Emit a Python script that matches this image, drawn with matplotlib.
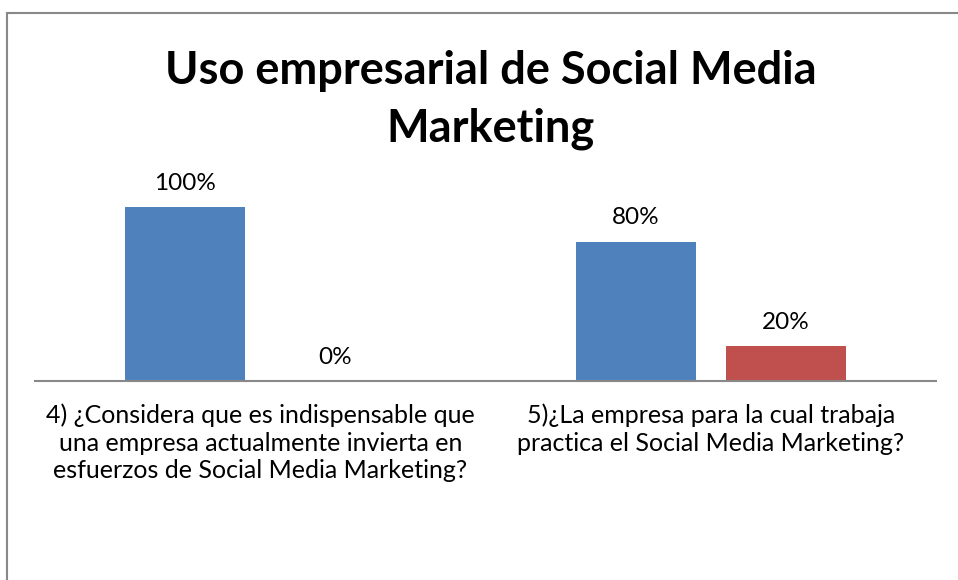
import matplotlib
matplotlib.use("Agg")
import matplotlib.pyplot as plt
from matplotlib.patches import Rectangle

categories = ["4) ¿Considera que es indispensable que\nuna empresa actualmente invierta en\nesfuerzos de Social Media Marketing?",
              "5)¿La empresa para la cual trabaja\npractica el Social Media Marketing?"]
series_si = [1.00, 0.80]
series_no = [0.00, 0.20]
labels_si = ["100%", "80%"]
labels_no = ["0%", "20%"]
title = "Uso empresarial de Social Media\nMarketing"

W, H = 958, 580
fig = plt.figure(figsize=(W/100, H/100), dpi=100)
fig.patch.set_facecolor("white")

ax_left, ax_right = 35/W, 936/W
ax_bottom, ax_top = 1-381/H, 1-150/H
ax = fig.add_axes([ax_left, ax_bottom, ax_right-ax_left, ax_top-ax_bottom])

ymax = (381-150)/174
ax.set_xlim(0, 2)
ax.set_ylim(0, ymax)
centers = [0.5, 1.5]
bw = 120/450.5
off = 75/450.5
blue = "#4F81BD"
red = "#C0504D"
font = ["Lato", "DejaVu Sans"]
for i, c in enumerate(centers):
    ax.bar(c-off, series_si[i], width=bw, color=blue)
    ax.bar(c+off, series_no[i], width=bw, color=red)
    ax.text(c-off, series_si[i]+24/174, labels_si[i], ha="center", va="center", fontsize=17.5, family=font)
    ax.text(c+off, series_no[i]+24/174, labels_no[i], ha="center", va="center", fontsize=17.5, family=font)

for s in ["top", "right", "left"]:
    ax.spines[s].set_visible(False)
ax.spines["bottom"].set_color("#888888")
ax.spines["bottom"].set_linewidth(1.5)
ax.set_yticks([])
ax.set_xticks(centers)
ax.set_xticklabels(categories, fontsize=18, family=font, linespacing=1.25)
ax.tick_params(axis="x", length=0, pad=16)

fig.text(491/W, 1-100/H, title, ha="center", va="center", fontsize=32.5, fontweight="bold",
         family=font, linespacing=1.45)

fig.add_artist(Rectangle((6.5/W, -0.1), 2, 1+0.1-13.5/H, transform=fig.transFigure,
                         fill=False, edgecolor="#888888", linewidth=1.5))

fig.savefig("out.png", dpi=100, facecolor="white")
